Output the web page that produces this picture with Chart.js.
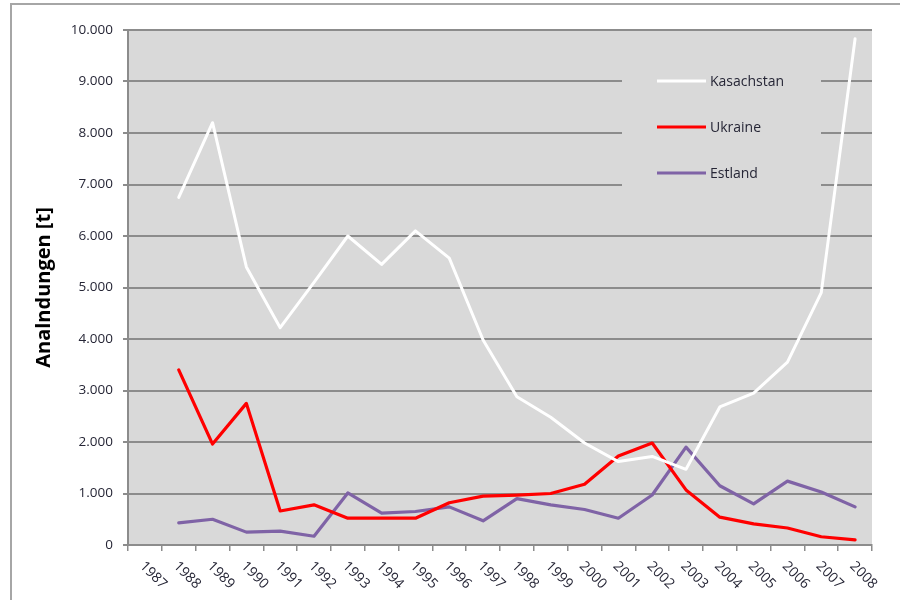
<!DOCTYPE html>
<html><head><meta charset="utf-8">
<script src="https://cdn.jsdelivr.net/npm/chart.js@4/dist/chart.umd.min.js"></script>
<style>html,body{margin:0;padding:0;background:#fff;}#wrap{width:900px;height:600px;position:relative;}</style>
</head><body><div id="wrap"><canvas id="c" width="900" height="600"></canvas></div>
<script>
const years = ['1987','1988','1989','1990','1991','1992','1993','1994','1995','1996','1997','1998','1999','2000','2001','2002','2003','2004','2005','2006','2007','2008'];
const kasachstan = [null, 6750, 8200, 5400, 4220, 5100, 6000, 5450, 6100, 5570, 3980, 2880, 2480, 1980, 1620, 1720, 1470, 2680, 2950, 3550, 4900, 9830];
const ukraine = [null, 3400, 1960, 2750, 660, 780, 520, 520, 520, 820, 950, 970, 1000, 1180, 1730, 1980, 1070, 540, 410, 330, 160, 100];
const estland = [null, 430, 500, 250, 270, 170, 1010, 620, 650, 740, 470, 900, 780, 690, 520, 970, 1900, 1150, 800, 1240, 1030, 740];
const yTicks = [0, 1000, 2000, 3000, 4000, 5000, 6000, 7000, 8000, 9000, 10000];
const seriesNames = ['Kasachstan', 'Ukraine', 'Estland'];
const yTitle = 'Analndungen [t]';

const FONT = '"Open Sans", "DejaVu Sans", sans-serif';
const TXT = '#262636';
const fmt = v => String(v).replace(/\B(?=(\d{3})+(?!\d))/g, '.');

const bgPlugin = {
  id: 'bg',
  beforeDraw(chart) {
    const ctx = chart.ctx, a = chart.chartArea;
    ctx.save();
    ctx.fillStyle = '#ffffff';
    ctx.fillRect(0, 0, chart.width, chart.height);
    ctx.strokeStyle = '#a6a6a6';
    ctx.lineWidth = 2;
    ctx.strokeRect(11, 4, 1000, 1000);
    ctx.fillStyle = '#d9d9d9';
    ctx.fillRect(a.left, a.top, a.right - a.left, a.bottom - a.top);
    ctx.restore();
  }
};

const xLabelPlugin = {
  id: 'xlabels',
  afterDraw(chart) {
    const s = chart.scales.x, ctx = chart.ctx;
    ctx.save();
    ctx.font = '14px ' + FONT;
    ctx.fillStyle = TXT;
    ctx.textAlign = 'left';
    ctx.textBaseline = 'top';
    chart.data.labels.forEach((lab, i) => {
      const x = s.getPixelForTick(i);
      ctx.save();
      ctx.translate(x + 2, s.top + 14);
      ctx.rotate(Math.PI / 4);
      ctx.fillText(lab, 0, 0);
      ctx.restore();
    });
    ctx.restore();
  }
};

const legendPlugin = {
  id: 'inlegend',
  afterDraw(chart) {
    const a = chart.chartArea, ctx = chart.ctx;
    ctx.save();
    ctx.fillStyle = '#d9d9d9';
    ctx.fillRect(a.left + 494, a.top + 26, 199, 145);
    chart.data.datasets.forEach((d, i) => {
      const y = a.top + 51 + i * 46;
      ctx.strokeStyle = d.borderColor;
      ctx.lineWidth = 3;
      ctx.lineCap = 'butt';
      ctx.beginPath();
      ctx.moveTo(a.left + 529, y);
      ctx.lineTo(a.left + 578, y);
      ctx.stroke();
      ctx.font = '14px ' + FONT;
      ctx.fillStyle = TXT;
      ctx.textAlign = 'left';
      ctx.textBaseline = 'middle';
      ctx.fillText(d.label, a.left + 582, y + 1);
    });
    ctx.restore();
  }
};

const mk = (label, data, color, w) => ({
  label, data, borderColor: color, backgroundColor: color, borderWidth: w,
  pointRadius: 0, pointHoverRadius: 0, tension: 0, fill: false,
  borderJoinStyle: 'round', borderCapStyle: 'round'
});

new Chart(document.getElementById('c'), {
  type: 'line',
  data: {
    labels: years,
    datasets: [
      mk(seriesNames[0], kasachstan, '#ffffff', 3),
      mk(seriesNames[1], ukraine, '#ff0000', 3.2),
      mk(seriesNames[2], estland, '#7f63a6', 3.2)
    ]
  },
  options: {
    responsive: false,
    animation: false,
    events: [],
    layout: { padding: { left: 0, top: 30, right: 28, bottom: 0 } },
    plugins: { legend: { display: false }, tooltip: { enabled: false } },
    scales: {
      x: {
        type: 'category',
        offset: true,
        grid: { offset: true, drawOnChartArea: false, drawTicks: true, tickLength: 6, color: '#8c8c8c', lineWidth: 1.5 },
        border: { display: true, color: '#8c8c8c', width: 2 },
        ticks: { display: false },
        afterFit(s) { s.height = 55; }
      },
      y: {
        min: 0, max: 10000,
        afterBuildTicks(s) { s.ticks = yTicks.map(v => ({ value: v })); },
        ticks: { callback: v => fmt(v), font: { family: FONT, size: 13.5 }, color: TXT, padding: 10 },
        grid: { color: '#8c8c8c', lineWidth: 2, tickLength: 5 },
        border: { display: true, color: '#8c8c8c', width: 2 },
        title: { display: true, text: yTitle, font: { family: FONT, size: 20, weight: 'bold' }, color: '#000000', padding: { top: 32, bottom: 0 } },
        afterFit(s) { s.width = 128; }
      }
    }
  },
  plugins: [bgPlugin, xLabelPlugin, legendPlugin]
});
</script></body></html>
